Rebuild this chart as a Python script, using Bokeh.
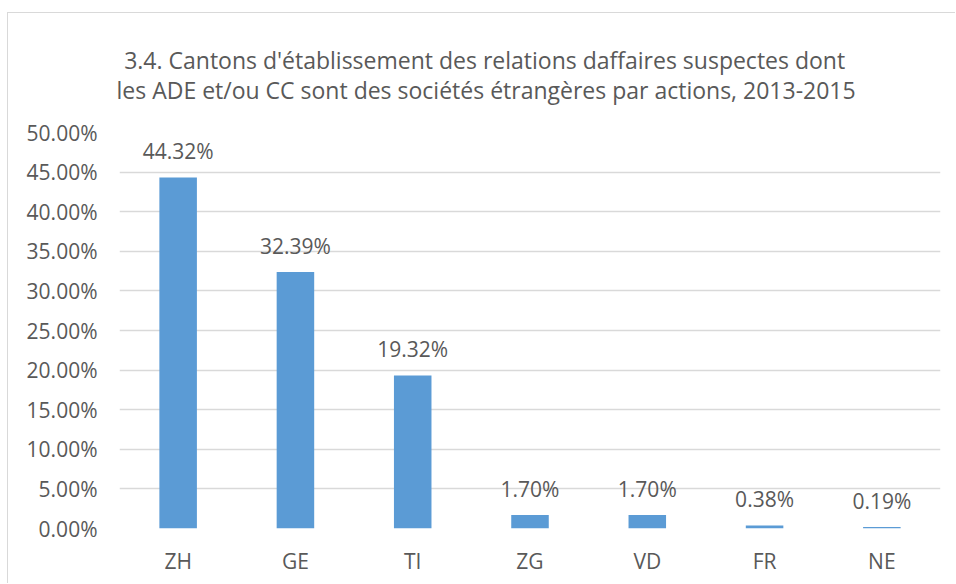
from bokeh.plotting import figure
from bokeh.models import Range1d, FixedTicker, PrintfTickFormatter, Title, ColumnDataSource
from bokeh.core.properties import value
from bokeh.embed import file_html
from bokeh.resources import INLINE

cantons = ["ZH", "GE", "TI", "ZG", "VD", "FR", "NE"]
shares = [44.32, 32.39, 19.32, 1.70, 1.70, 0.38, 0.19]
share_labels = ["44.32%", "32.39%", "19.32%", "1.70%", "1.70%", "0.38%", "0.19%"]
y_ticks = [0, 5, 10, 15, 20, 25, 30, 35, 40, 45, 50]
title_lines = [
    "3.4. Cantons d'établissement des relations daffaires suspectes dont",
    "les ADE et/ou CC sont des sociétés étrangères par actions, 2013-2015",
]

FONT = "Open Sans"
GREY = "#595959"
BAR = "#5B9BD5"
GRID = "#D9D9D9"

xs = list(range(len(cantons)))
src = ColumnDataSource(dict(x=xs, y=shares, lab=share_labels))

p = figure(width=948, height=571, output_backend="svg", toolbar_location=None,
           x_range=Range1d(-0.5, len(cantons) - 0.5), y_range=Range1d(0, 50),
           min_border_left=111, min_border_right=16, min_border_top=119, min_border_bottom=56)
p.styles = {"margin-left": "7px", "margin-top": "12px",
            "border-left": f"1px solid {GRID}", "border-top": f"1px solid {GRID}"}
p.outline_line_color = None
p.background_fill_color = "white"
p.border_fill_color = "white"

p.vbar(x="x", top="y", width=0.32, source=src, fill_color=BAR, line_color=None)
p.text(x="x", y="y", text="lab", source=src, text_align="center", text_baseline="alphabetic",
       y_offset=-26, text_font=value(FONT), text_font_size="21px", text_color=GREY)

# axes
p.xaxis.ticker = FixedTicker(ticks=xs)
p.xaxis.major_label_overrides = {i: c for i, c in enumerate(cantons)}
p.yaxis.ticker = FixedTicker(ticks=y_ticks)
p.yaxis.formatter = PrintfTickFormatter(format="%.2f%%")
for ax in (p.xaxis[0], p.yaxis[0]):
    ax.axis_line_color = None
    ax.major_tick_line_color = None
    ax.minor_tick_line_color = None
    ax.major_tick_out = 0
    ax.major_tick_in = 0
    ax.major_label_text_font = FONT
    ax.major_label_text_font_size = "21px"
    ax.major_label_text_color = GREY
p.yaxis.major_label_standoff = 22
p.xaxis.major_label_standoff = 18

p.xgrid.grid_line_color = None
p.ygrid.grid_line_color = GRID
p.ygrid.grid_line_width = 1.5
p.ygrid.ticker = FixedTicker(ticks=y_ticks)

p.title = Title(text="\u2004" + title_lines[0] + "\n" + title_lines[1], align="left", offset=-3,
                vertical_align="bottom", text_font=FONT, text_font_size="23px",
                text_font_style="normal", text_color=GREY, text_line_height=0.95, standoff=52)

open("out.html", "w").write(file_html(p, INLINE))
